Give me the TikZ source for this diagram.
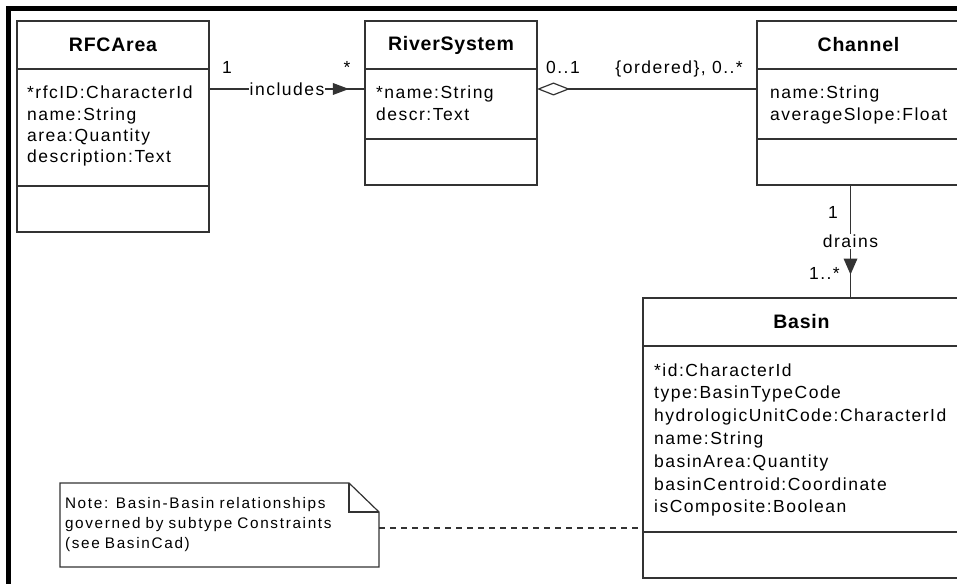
\documentclass[tikz,border=0pt]{standalone}
\usepackage{fontspec}
\setmainfont{Liberation Sans}
\newfontfamily\attrFont{Liberation Sans}[LetterSpace=8.5]
\newfontfamily\titleFont{Liberation Sans}[LetterSpace=4]
\newfontfamily\noteFont{Liberation Sans}[LetterSpace=11]
\usetikzlibrary{positioning, arrows.meta, calc}
\definecolor{frameBlack}{HTML}{000000}
\definecolor{boxLine}{HTML}{333333}
\tikzset{
    ClassTitle/.style={draw=boxLine, line width=1.2pt, anchor=north west, inner sep=0pt, outer sep=0pt, minimum height=48pt, font=\titleFont\fontsize{19.5}{23}\selectfont\bfseries},
    ClassPart/.style={draw=boxLine, line width=1.2pt, inner sep=0pt, outer sep=0pt, below=0pt of #1},
    AttrText/.style={anchor=base west, inner sep=0pt, font=\attrFont\fontsize{17.5}{21}\selectfont},
    MultText/.style={anchor=base, inner sep=0pt, font=\attrFont\fontsize{17.5}{21}\selectfont},
    AssocLine/.style={draw=boxLine, line width=1.2pt},
    AssocLabel/.style={midway, fill=white, inner sep=1pt, font=\attrFont\fontsize{17.5}{21}\selectfont},
    NoteBox/.style={anchor=north west, minimum width=319pt, minimum height=84pt, text width=309pt, inner xsep=5pt, inner ysep=0pt, outer sep=0pt, align=left, font=\noteFont\fontsize{15.3}{20}\selectfont},
    NoteLine/.style={draw=boxLine, line width=1.2pt, line join=miter},
    NoteLink/.style={draw=boxLine, line width=1.2pt, dash pattern=on 6pt off 5pt}
}

\begin{document}
\begin{tikzpicture}[x=1pt, y=-1pt]
    \useasboundingbox (0,0) rectangle (957,583);
    \clip (0,0) rectangle (957,583);
    \fill[white] (0,0) rectangle (957,583);

    % 外框
    \draw[frameBlack, line width=5.3pt, line join=miter] (8.3,600) -- (8.3,8.3) -- (970,8.3);

    % RFCArea
    \node[ClassTitle, minimum width=192pt] (rfc) at (17,21) {RFCArea};
    \node[ClassPart=rfc, minimum width=192pt, minimum height=117pt] (rfcAttr) {};
    \node[ClassPart=rfcAttr, minimum width=192pt, minimum height=46pt] (rfcOps) {};
    \foreach \txt [count=\i] in {*rfcID:CharacterId, name:String, area:Quantity, description:Text}
        \node[AttrText] (rfcA\i) at ([shift={(10,{30+(\i-1)*21.3})}]rfcAttr.north west) {\txt};

    % RiverSystem
    \node[ClassTitle, minimum width=172pt] (rs) at (365,21) {RiverSystem};
    \node[ClassPart=rs, minimum width=172pt, minimum height=70pt] (rsAttr) {};
    \node[ClassPart=rsAttr, minimum width=172pt, minimum height=46pt] (rsOps) {};
    \foreach \txt [count=\i] in {*name:String, descr:Text}
        \node[AttrText] (rsA\i) at ([shift={(11,{30+(\i-1)*21.3})}]rsAttr.north west) {\txt};

    % Channel
    \node[ClassTitle, minimum width=203pt] (ch) at (757,21) {Channel};
    \node[ClassPart=ch, minimum width=203pt, minimum height=70pt] (chAttr) {};
    \node[ClassPart=chAttr, minimum width=203pt, minimum height=46pt] (chOps) {};
    \foreach \txt [count=\i] in {name:String, averageSlope:Float}
        \node[AttrText] (chA\i) at ([shift={(13,{30+(\i-1)*21.3})}]chAttr.north west) {\txt};

    % Basin
    \node[ClassTitle, minimum width=317pt] (bas) at (643,298) {Basin};
    \node[ClassPart=bas, minimum width=317pt, minimum height=186pt] (basAttr) {};
    \node[ClassPart=basAttr, minimum width=317pt, minimum height=46pt] (basOps) {};
    \foreach \txt [count=\i] in {*id:CharacterId, type:BasinTypeCode, hydrologicUnitCode:CharacterId, name:String, basinArea:Quantity, basinCentroid:Coordinate, isComposite:Boolean}
        \node[AttrText] (basA\i) at ([shift={(11,{30+(\i-1)*22.8})}]basAttr.north west) {\txt};

    % 关联:includes
    \draw[AssocLine] ([yshift=-20pt]rfcAttr.north east) -- node[AssocLabel] (inc) {includes} ([yshift=-20pt]rsAttr.north west);
    \fill[boxLine] ([xshift=7pt, yshift=6pt]inc.east) -- ++(16pt,-6pt) -- ++(-16pt,-6pt) -- cycle;
    \node[MultText] (incFrom) at ([shift={(18,5)}]rfcAttr.north east) {1};
    \node[MultText] (incTo) at ([shift={(-18,5)}]rsAttr.north west) {*};

    % 聚合
    \draw[AssocLine, {Diamond[fill=white, length=33pt, width=13pt]}-] ([yshift=-20pt]rsAttr.north east) -- ([yshift=-20pt]chAttr.north west);
    \node[MultText] (aggFrom) at ([shift={(26,5)}]rsAttr.north east) {0..1};
    \node[MultText, anchor=base east] (aggTo) at ([shift={(-14,5)}]chAttr.north west) {\{ordered\}, 0..*};

    % 关联:drains
    \draw[AssocLine] ([xshift=-8pt]chOps.south) -- node[AssocLabel] (dr) {drains} ($(chOps.south |- bas.north)+(-8,0)$);
    \fill[boxLine] ([xshift=-7pt, yshift=-9pt]dr.south) -- ++(14pt,0pt) -- ++(-7pt,-16pt) -- cycle;
    \node[MultText] (drFrom) at ([shift={(-25.5,33)}]chOps.south) {1};
    \node[MultText, anchor=base east] (drTo) at ($(chOps.south |- bas.north)+(-18.5,-19)$) {1..*};

    % 注释
    \node[NoteBox] (note) at (60,483) {Note: Basin-Basin relationships\\governed by subtype Constraints\\(see BasinCad)};
    \draw[NoteLine] (note.north west) -- ([xshift=-30pt]note.north east) -- ([yshift=-29pt]note.north east) -- (note.south east) -- (note.south west) -- cycle;
    \draw[NoteLine] ([xshift=-30pt]note.north east) |- ([yshift=-29pt]note.north east);
    \draw[NoteLink] ($(note.east)+(0,3)$) -- ($(note.east -| basAttr.west)+(0,3)$);
\end{tikzpicture}
\end{document}
